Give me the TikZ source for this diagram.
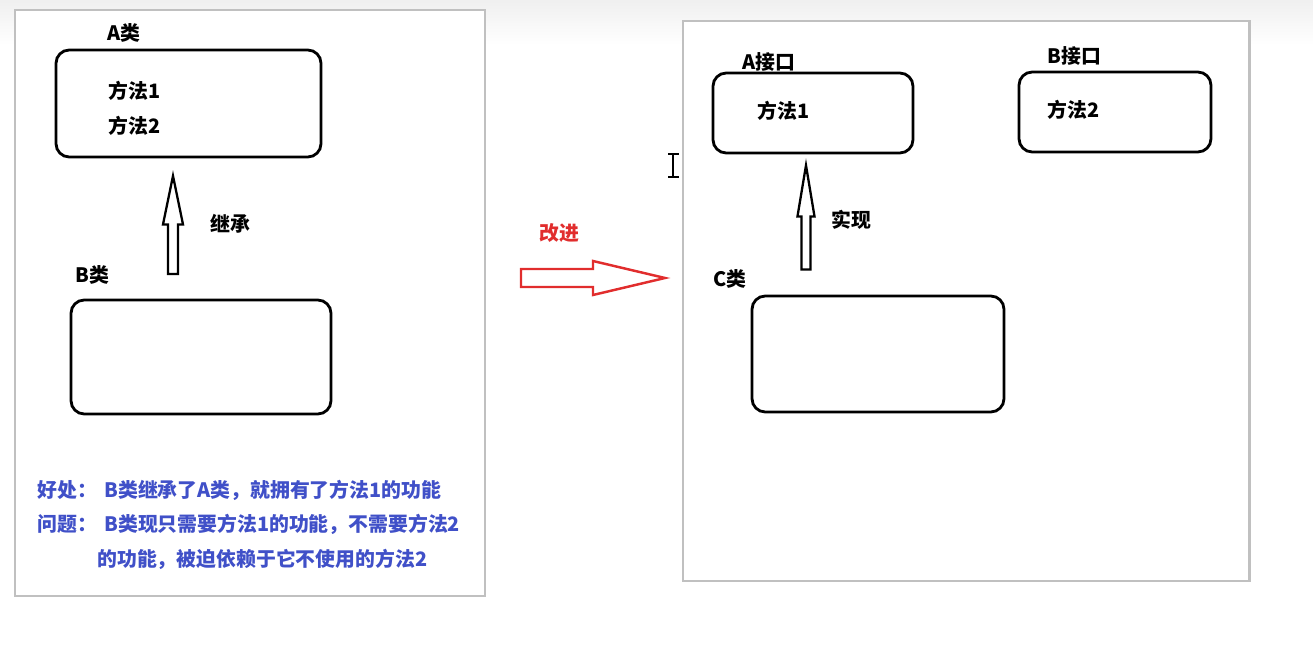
\documentclass[tikz,border=0pt]{standalone}
\usepackage{fontspec}
\setmainfont{Noto Sans CJK SC}
\usetikzlibrary{calc}
\definecolor{panelgray}{RGB}{192,192,192}
\definecolor{noteblue}{RGB}{64,80,200}
\definecolor{arrowred}{RGB}{225,45,45}
\newcommand\myhollowup[5]{% tip, head length, half head, half shaft, total length
  \draw[hollow] (#1) -- ++(#3,#2) -- ++(-#3+#4,0) -- ++(0,#5-#2) -- ++(-2*#4,0)
    -- ++(0,-#5+#2) -- ++(-#3+#4,0) -- cycle;}
\begin{document}
\begin{tikzpicture}[x=0.02cm,y=-0.02cm,
  font=\fontsize{11.3}{13}\selectfont\bfseries,
  panel/.style={draw=panelgray,line width=1.7pt},
  cbox/.style={draw=black,line width=1.6pt,rounded corners=7.5pt,inner sep=0pt},
  lbl/.style={anchor=west,inner sep=0pt},
  note/.style={anchor=west,inner sep=0pt,text=noteblue},
  hollow/.style={draw=black,line width=1.3pt,fill=white,line join=miter},
  redarrow/.style={draw=arrowred,line width=1.4pt,fill=white,line join=miter},
]
\useasboundingbox (0,0) rectangle (1313,672);
\shade[top color=black!6,bottom color=white] (0,0) rectangle (1313,45);
\fill[white] (15,10) rectangle (485,596);
\fill[white] (683,21) rectangle (1249,581);
% panels
\draw[panel] (15,10) rectangle (485,596);
\draw[panel] (683,21) rectangle (1249,581);

% ---- left panel ----
\node[cbox,minimum width=5.3cm,minimum height=2.14cm] (abox) at (188.5,103.5) {};
\node[lbl] (alabel) at (107,33) {A类};
\node[lbl] (am1) at (108,91) {方法1};
\node[lbl] (am2) at (108,126) {方法2};
\node[cbox,minimum width=5.2cm,minimum height=2.28cm] (bbox) at (201,357) {};
\node[lbl] (blabel) at (75,275) {B类};
\coordinate (t1) at ($(abox.south)+(-15.5,17.5)$);
\myhollowup{t1}{48.5}{10}{5}{98}
\node[lbl] (inherit) at (210,224) {继承};

\node[note] (n1a) at (37,490) {好处：};
\node[note] (n1b) at (104,490) {B类继承了A类，就拥有了方法1的功能};
\node[note] (n2a) at (37,524) {问题：};
\node[note] (n2b) at (104,524) {B类现只需要方法1的功能，不需要方法2};
\node[note] (n3) at (97,559) {的功能，被迫依赖于它不使用的方法2};

% ---- middle ----
\node[lbl,text=arrowred] (improve) at (539,233) {改进};
\coordinate (rtail) at (521,278);
\coordinate (rtip) at (665,278);
\draw[redarrow] (rtip) -- ++(-72,-17) -- ++(0,8) -- ($(rtail)+(0,-9)$) -- ++(0,18)
  -- ($(rtip)+(-72,9)$) -- ++(0,8) -- cycle;
% cursor
\draw[black,line width=0.6pt] (673,154) -- (673,177) (668,154) -- (679,154) (668,177) -- (679,177);

% ---- right panel ----
\node[cbox,minimum width=4cm,minimum height=1.6cm] (aif) at (813,113) {};
\node[lbl] (aiflabel) at (742,62) {A接口};
\node[lbl] (aifm) at (757,111) {方法1};
\node[cbox,minimum width=3.84cm,minimum height=1.6cm] (bif) at (1115,112) {};
\node[lbl] (biflabel) at (1047,56) {B接口};
\node[lbl] (bifm) at (1047,110) {方法2};
\node[cbox,minimum width=5.04cm,minimum height=2.32cm] (cbox) at (878,354) {};
\node[lbl] (clabel) at (713,279) {C类};
\coordinate (t2) at ($(aif.south)+(-7,11)$);
\myhollowup{t2}{51}{8.5}{4.5}{104}
\node[lbl] (impl) at (831,220) {实现};
\end{tikzpicture}
\end{document}
